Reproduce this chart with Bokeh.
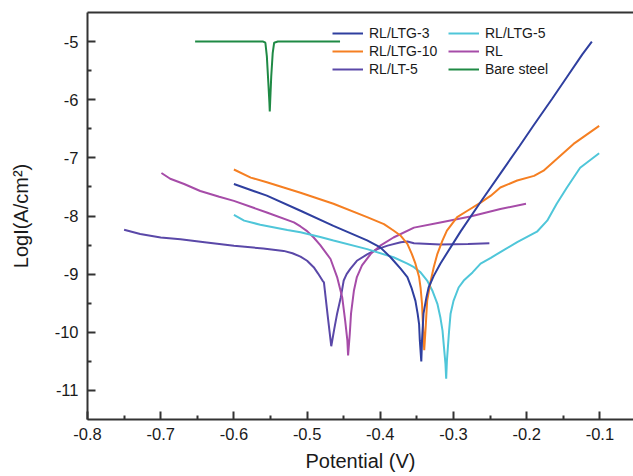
from bokeh.plotting import figure
from bokeh.models import (Range1d, FixedTicker, LinearAxis, Legend, LegendItem,
                          PrintfTickFormatter)
from bokeh.embed import file_html
from bokeh.resources import INLINE

# ---------------- data ----------------
bare_x = [-0.653, -0.56, -0.557, -0.555, -0.553, -0.5515, -0.551, -0.5505, -0.549, -0.547, -0.545, -0.54, -0.455]
bare_y = [-5.0, -5.0, -5.02, -5.25, -5.7, -6.05, -6.2, -6.05, -5.6, -5.2, -5.02, -5.0, -5.0]

lt5_x = [-0.750, -0.728, -0.700, -0.673, -0.64, -0.600, -0.56, -0.532, -0.52, -0.509, -0.500, -0.491, -0.485,
         -0.479, -0.477, -0.472, -0.467, -0.463, -0.459, -0.454, -0.450, -0.446, -0.441, -0.432, -0.418,
         -0.404, -0.390, -0.372, -0.363, -0.354, -0.318, -0.28, -0.251]
lt5_y = [-8.235, -8.31, -8.37, -8.40, -8.45, -8.51, -8.56, -8.60, -8.64, -8.70, -8.77, -8.88, -8.99,
         -9.11, -9.14, -9.70, -10.24, -9.95, -9.68, -9.40, -9.11, -9.00, -8.91, -8.77, -8.66,
         -8.57, -8.51, -8.45, -8.44, -8.47, -8.49, -8.48, -8.47]

rl_x = [-0.699, -0.687, -0.668, -0.646, -0.62, -0.600, -0.555, -0.518, -0.509, -0.500, -0.491, -0.482, -0.468,
        -0.459, -0.452, -0.448, -0.445, -0.444, -0.4417, -0.440, -0.436, -0.432, -0.425, -0.413, -0.400,
        -0.382, -0.354, -0.318, -0.277, -0.236, -0.201]
rl_y = [-7.26, -7.36, -7.45, -7.57, -7.67, -7.74, -7.94, -8.11, -8.18, -8.26, -8.37, -8.50, -8.74,
        -9.05, -9.40, -9.80, -10.14, -10.40, -10.03, -9.68, -9.28, -9.05, -8.85, -8.65, -8.51,
        -8.37, -8.20, -8.11, -8.01, -7.88, -7.79]

ltg3_x = [-0.600, -0.555, -0.509, -0.464, -0.418, -0.400, -0.386, -0.372, -0.363, -0.357, -0.352, -0.349,
          -0.347, -0.346, -0.344, -0.343, -0.341, -0.337, -0.334, -0.327, -0.318, -0.29, -0.263, -0.236,
          -0.21, -0.19, -0.165, -0.145, -0.124, -0.111]
ltg3_y = [-7.45, -7.65, -7.91, -8.17, -8.42, -8.54, -8.71, -8.91, -9.05, -9.25, -9.46, -9.68,
          -9.86, -10.14, -10.50, -10.14, -9.68, -9.40, -9.23, -9.03, -8.82, -8.26, -7.76, -7.27,
          -6.80, -6.43, -5.98, -5.61, -5.22, -5.00]

ltg10_x = [-0.600, -0.577, -0.555, -0.509, -0.464, -0.418, -0.395, -0.382, -0.372, -0.363, -0.357, -0.352,
           -0.347, -0.345, -0.343, -0.342, -0.340, -0.338, -0.336, -0.331, -0.327, -0.322, -0.315, -0.309,
           -0.295, -0.281, -0.263, -0.249, -0.236, -0.213, -0.190, -0.177, -0.159, -0.136, -0.101]
ltg10_y = [-7.20, -7.34, -7.42, -7.60, -7.79, -8.02, -8.14, -8.25, -8.34, -8.48, -8.65, -8.82,
           -9.05, -9.23, -9.51, -9.80, -10.31, -9.91, -9.46, -9.11, -8.88, -8.65, -8.42, -8.25,
           -8.02, -7.91, -7.77, -7.65, -7.51, -7.39, -7.31, -7.22, -7.02, -6.76, -6.45]

ltg5_x = [-0.600, -0.586, -0.564, -0.527, -0.509, -0.482, -0.464, -0.418, -0.382, -0.363, -0.354, -0.345,
          -0.336, -0.329, -0.322, -0.318, -0.315, -0.313, -0.311, -0.310, -0.309, -0.306, -0.304, -0.300,
          -0.293, -0.286, -0.274, -0.263, -0.249, -0.236, -0.213, -0.186, -0.172, -0.159, -0.145, -0.127,
          -0.101]
ltg5_y = [-7.98, -8.08, -8.15, -8.24, -8.28, -8.36, -8.42, -8.57, -8.71, -8.82, -8.88, -8.97,
          -9.11, -9.28, -9.51, -9.74, -9.97, -10.26, -10.54, -10.80, -10.49, -9.97, -9.68, -9.46,
          -9.23, -9.11, -8.97, -8.82, -8.72, -8.62, -8.45, -8.27, -8.08, -7.79, -7.51, -7.17,
          -6.92]

x_ticks = [-0.8, -0.7, -0.6, -0.5, -0.4, -0.3, -0.2, -0.1]
x_minor = [-0.75, -0.65, -0.55, -0.45, -0.35, -0.25, -0.15]
y_ticks = [-11, -10, -9, -8, -7, -6, -5]
y_minor = [-10.5, -9.5, -8.5, -7.5, -6.5, -5.5]

FONT = "Liberation Sans"
TXT = "#1a1a1a"
AX = "#333333"

p = figure(width=633, height=476, x_range=Range1d(-0.8, -0.0541), y_range=Range1d(-11.5, -4.5),
           output_backend="svg", toolbar_location=None,
           min_border_left=87, min_border_right=0, min_border_top=12, min_border_bottom=57)
p.outline_line_color = None
p.grid.visible = False
p.background_fill_color = "white"

for ax in (p.xaxis[0], p.yaxis[0]):
    ax.axis_line_width = 2
    ax.axis_line_color = AX
    ax.major_tick_line_width = 2
    ax.major_tick_line_color = AX
    ax.minor_tick_line_width = 2
    ax.minor_tick_line_color = AX
    ax.major_tick_in = 8
    ax.major_tick_out = 0
    ax.minor_tick_in = 4
    ax.minor_tick_out = 0
    ax.major_label_text_font = FONT
    ax.major_label_text_font_size = "16.5px"
    ax.major_label_text_color = TXT
    ax.axis_label_text_font = FONT
    ax.axis_label_text_font_size = "20px"
    ax.axis_label_text_font_style = "normal"
    ax.axis_label_text_color = TXT

p.xaxis[0].ticker = FixedTicker(ticks=x_ticks, minor_ticks=x_minor)
p.yaxis[0].ticker = FixedTicker(ticks=y_ticks, minor_ticks=y_minor)
p.xaxis[0].formatter = PrintfTickFormatter(format="%.1f")
p.yaxis[0].formatter = PrintfTickFormatter(format="%d")
p.xaxis[0].major_label_standoff = 8
p.yaxis[0].major_label_standoff = 9
p.xaxis[0].axis_label = "Potential (V)"
p.yaxis[0].axis_label = "LogI(A/cm²)"
p.xaxis[0].axis_label_standoff = 7
p.yaxis[0].axis_label_standoff = 20

top = LinearAxis(ticker=FixedTicker(ticks=[]), major_label_text_font_size="0px",
                 axis_line_width=2, axis_line_color=AX,
                 major_tick_in=0, major_tick_out=0, minor_tick_in=0, minor_tick_out=0)
p.add_layout(top, "above")

C_LTG3 = "#2f3f9f"
C_LTG5 = "#4fc6d9"
C_LTG10 = "#f57f22"
C_RL = "#a64ca8"
C_LT5 = "#5a48a8"
C_BARE = "#1f8a45"

LW = 2
r_bare = p.line(bare_x, bare_y, line_color=C_BARE, line_width=LW)
r_lt5 = p.line(lt5_x, lt5_y, line_color=C_LT5, line_width=LW)
r_rl = p.line(rl_x, rl_y, line_color=C_RL, line_width=LW)
r_ltg5 = p.line(ltg5_x, ltg5_y, line_color=C_LTG5, line_width=LW)
r_ltg10 = p.line(ltg10_x, ltg10_y, line_color=C_LTG10, line_width=LW)
r_ltg3 = p.line(ltg3_x, ltg3_y, line_color=C_LTG3, line_width=LW)


def make_legend(items, loc):
    lg = Legend(items=items, location=loc, padding=0, margin=0, spacing=2,
                glyph_width=31, glyph_height=16, label_height=16, label_standoff=6,
                label_text_font=FONT, label_text_font_size="14px", label_text_color=TXT,
                border_line_color=None, background_fill_alpha=0)
    return lg


leg1 = make_legend([LegendItem(label="RL/LTG-3", renderers=[r_ltg3]),
                    LegendItem(label="RL/LTG-10", renderers=[r_ltg10]),
                    LegendItem(label="RL/LT-5", renderers=[r_lt5])], (245, 342))
leg2 = make_legend([LegendItem(label="RL/LTG-5", renderers=[r_ltg5]),
                    LegendItem(label="RL", renderers=[r_rl]),
                    LegendItem(label="Bare steel", renderers=[r_bare])], (361, 342))
p.add_layout(leg1)
p.add_layout(leg2)

open("out.html", "w").write(file_html(p, INLINE))
